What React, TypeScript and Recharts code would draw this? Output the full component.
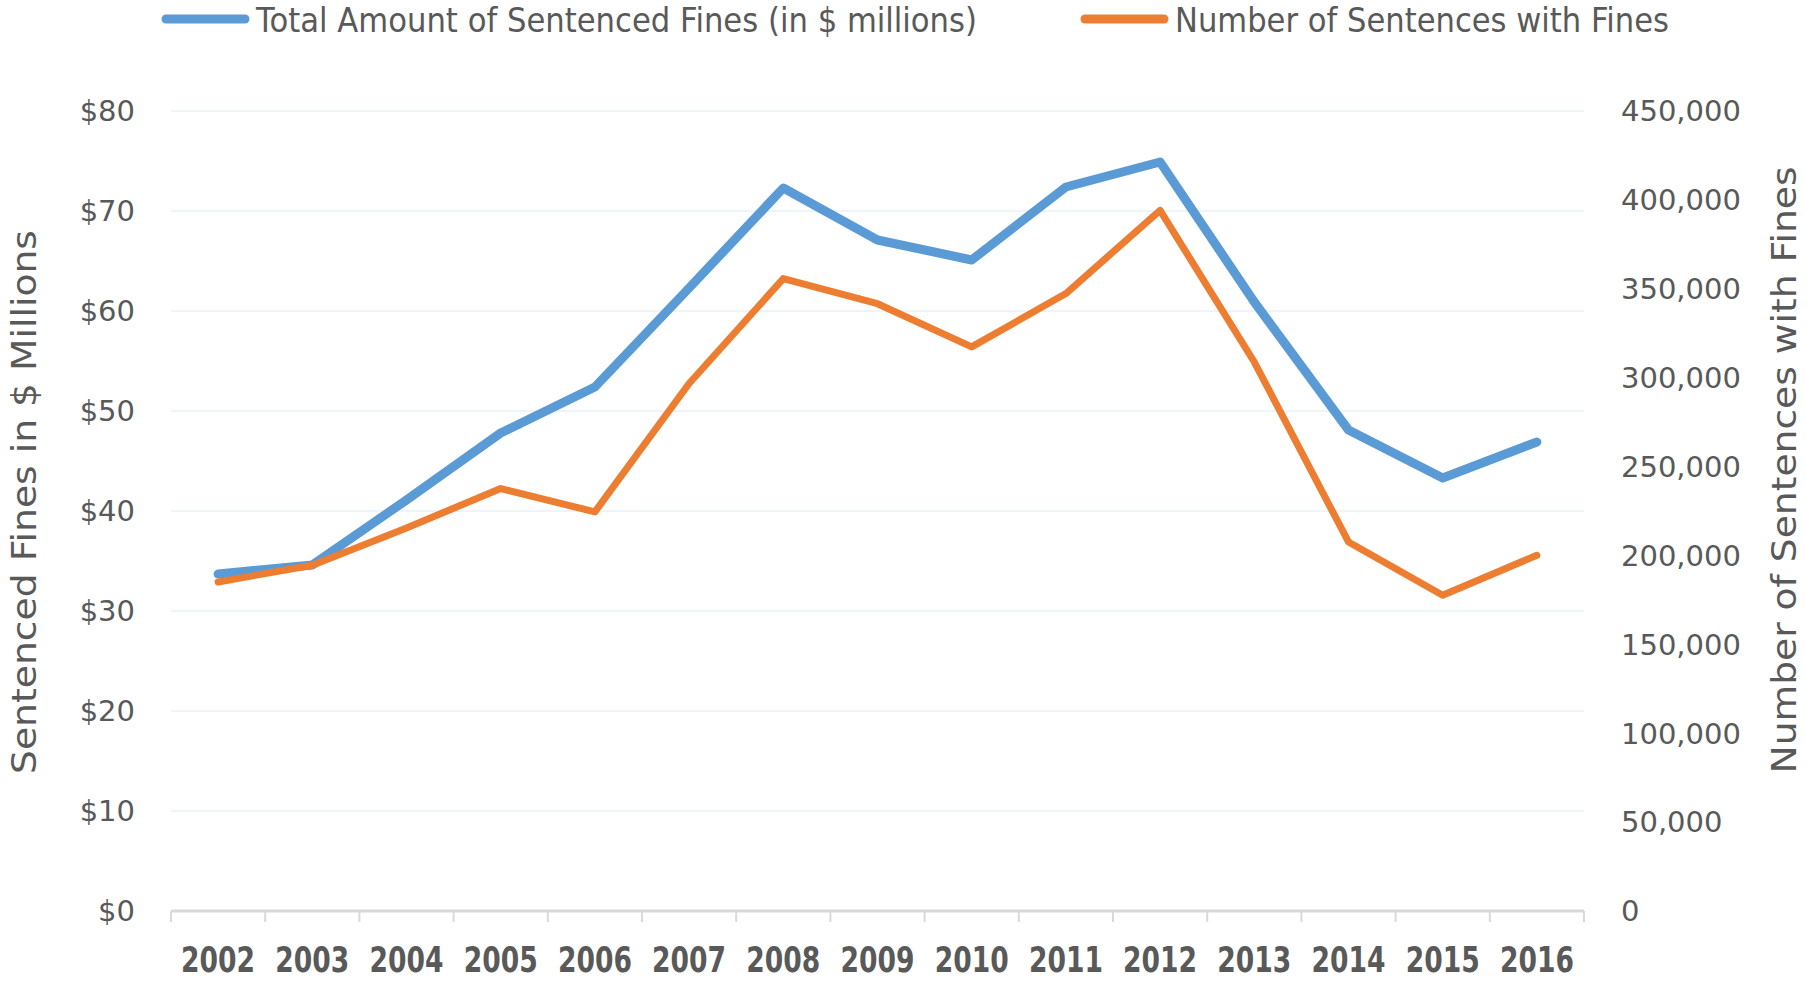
import React from 'react';
import { LineChart, Line, XAxis, YAxis, CartesianGrid } from 'recharts';

const years = ['2002', '2003', '2004', '2005', '2006', '2007', '2008', '2009', '2010', '2011', '2012', '2013', '2014', '2015', '2016'];
const finesMillions = [33.7, 34.6, 41.1, 47.8, 52.4, 62.3, 72.3, 67.1, 65.1, 72.4, 74.9, 60.9, 48.1, 43.3, 46.9];
const sentencesWithFines = [185100, 194500, 215500, 237600, 224500, 296700, 355700, 341600, 317300, 347300, 394100, 308800, 207600, 177600, 200100];
const dollarTicks = [0, 10, 20, 30, 40, 50, 60, 70, 80];
const countTicks = [0, 50000, 100000, 150000, 200000, 250000, 300000, 350000, 400000, 450000];

const data = years.map((year, i) => ({
  year,
  fines: finesMillions[i],
  sentences: sentencesWithFines[i],
}));

const W = 1806;
const H = 983;
const LEFT_AXIS_W = 171;
const RIGHT_AXIS_W = 222;
const PLOT_W = W - LEFT_AXIS_W - RIGHT_AXIS_W;
const BLUE = '#5B9BD5';
const ORANGE = '#ED7D31';
const TEXT = '#595959';
const AXIS_GREY = '#D9D9D9';
const SANS = '"DejaVu Sans", sans-serif';

// year labels plus Excel-style tick marks sitting on the category boundaries
const YearTick = (props: any) => {
  const { x, y, payload, index } = props;
  const band = PLOT_W / years.length;
  const left = x - band / 2;
  return (
    <g>
      <line x1={left} y1={y} x2={left} y2={y + 11} stroke={AXIS_GREY} strokeWidth={2} />
      {index === years.length - 1 && (
        <line x1={x + band / 2} y1={y} x2={x + band / 2} y2={y + 11} stroke={AXIS_GREY} strokeWidth={2} />
      )}
      <text
        x={x}
        y={y + 61}
        textAnchor="middle"
        fill={TEXT}
        fontSize={35}
        fontWeight="bold"
        fontFamily={SANS}
        textLength={74}
        lengthAdjust="spacingAndGlyphs"
      >
        {payload.value}
      </text>
    </g>
  );
};

const legendItems = [
  { label: 'Total Amount of Sentenced Fines (in $ millions)', color: BLUE, left: 161, textWidth: 721 },
  { label: 'Number of Sentences with Fines', color: ORANGE, left: 1080, textWidth: 494 },
];

const AxisTitle = ({ x, y, width, children }: any) => (
  <text
    transform={`translate(${x}, ${y}) rotate(-90)`}
    textAnchor="middle"
    dominantBaseline="central"
    fill={TEXT}
    fontSize={33}
    fontFamily={SANS}
    textLength={width}
    lengthAdjust="spacingAndGlyphs"
  >
    {children}
  </text>
);

export default function App() {
  return (
    <div style={{ position: 'absolute', left: 0, top: 0, width: W, height: H, background: '#fff' }}>
      <svg width={W} height={44} style={{ position: 'absolute', left: 0, top: 0 }}>
        {legendItems.map((item) => (
          <g key={item.label}>
            <line
              x1={item.left + 5}
              y1={19}
              x2={item.left + 84}
              y2={19}
              stroke={item.color}
              strokeWidth={9}
              strokeLinecap="round"
            />
            <text
              x={item.left + 95}
              y={20}
              dominantBaseline="central"
              fill={TEXT}
              fontSize={33}
              fontFamily={SANS}
              textLength={item.textWidth}
              lengthAdjust="spacingAndGlyphs"
            >
              {item.label}
            </text>
          </g>
        ))}
      </svg>
      <LineChart width={W} height={H} data={data} margin={{ top: 111, right: 0, bottom: 0, left: 0 }}>
        <CartesianGrid yAxisId="fines" vertical={false} stroke="#EEF4FB" strokeWidth={2} />
        <XAxis
          dataKey="year"
          scale="band"
          height={72}
          axisLine={{ stroke: AXIS_GREY, strokeWidth: 3 }}
          tickLine={false}
          tickSize={0}
          tickMargin={0}
          interval={0}
          tick={<YearTick />}
        />
        <YAxis
          yAxisId="fines"
          orientation="left"
          width={LEFT_AXIS_W}
          domain={[0, 80]}
          ticks={dollarTicks}
          axisLine={false}
          tickLine={false}
          tickSize={0}
          tickMargin={36}
          tickFormatter={(v: number) => `$${v}`}
          tick={{ fill: TEXT, fontSize: 29, fontFamily: SANS }}
          label={{
            content: () => (
              <AxisTitle x={24} y={502} width={544}>
                Sentenced Fines in $ Millions
              </AxisTitle>
            ),
          }}
        />
        <YAxis
          yAxisId="sentences"
          orientation="right"
          width={RIGHT_AXIS_W}
          domain={[0, 450000]}
          ticks={countTicks}
          axisLine={false}
          tickLine={false}
          tickSize={0}
          tickMargin={37}
          tickFormatter={(v: number) => v.toLocaleString('en-US')}
          tick={{ fill: TEXT, fontSize: 29, fontFamily: SANS, textAnchor: 'start' }}
          label={{
            content: () => (
              <AxisTitle x={1784} y={470} width={607}>
                Number of Sentences with Fines
              </AxisTitle>
            ),
          }}
        />
        <Line
          yAxisId="fines"
          dataKey="fines"
          stroke={BLUE}
          strokeWidth={9}
          strokeLinejoin="round"
          strokeLinecap="round"
          dot={false}
          activeDot={false}
          isAnimationActive={false}
        />
        <Line
          yAxisId="sentences"
          dataKey="sentences"
          stroke={ORANGE}
          strokeWidth={7}
          strokeLinejoin="round"
          strokeLinecap="round"
          dot={false}
          activeDot={false}
          isAnimationActive={false}
        />
      </LineChart>
    </div>
  );
}
